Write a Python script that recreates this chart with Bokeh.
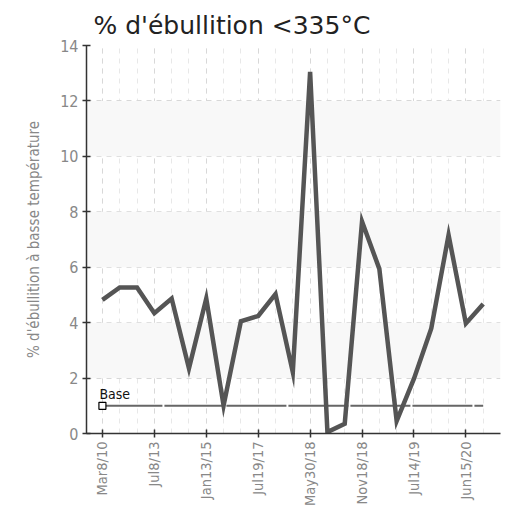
from bokeh.plotting import figure
from bokeh.embed import file_html
from bokeh.resources import INLINE
from bokeh.models import FixedTicker, Range1d, BoxAnnotation, Label

title = "% d'ébullition <335°C"
y_label = "% d'ébullition à basse température"

values = [4.82, 5.27, 5.27, 4.34, 4.87, 2.35, 4.87, 1.01, 4.05, 4.24, 5.03, 2.21,
          13.05, 0.05, 0.35, 7.65, 5.94, 0.45, 1.98, 3.79, 7.16, 3.97, 4.67]
tick_index = [0, 3, 6, 9, 12, 15, 18, 21]
tick_labels = ["Mar8/10", "Jul8/13", "Jan13/15", "Jul19/17", "May30/18",
               "Nov18/18", "Jul14/19", "Jun15/20"]
base_value = 1.0
base_label = "Base"

x = list(range(len(values)))
NARROW = "DejaVu Sans Condensed"

p = figure(width=508, height=510, output_backend="svg", toolbar_location=None,
           x_range=Range1d(-0.92, 23.0), y_range=Range1d(0, 14),
           min_border_left=86, min_border_right=8, min_border_top=45,
           min_border_bottom=77, title=title)
p.outline_line_color = None
p.background_fill_color = "white"

p.title.text_font = "DejaVu Sans"
p.title.text_font_size = "25px"
p.title.text_font_style = "normal"
p.title.text_color = "#222222"
p.title.offset = 7
p.title.standoff = 8
p.title.vertical_align = "top"

for lo in (2, 6, 10):
    p.add_layout(BoxAnnotation(bottom=lo, top=lo + 2, fill_color="#f8f8f8",
                               fill_alpha=1.0, line_color=None, level="underlay"))

p.xaxis.ticker = FixedTicker(ticks=tick_index, minor_ticks=x)
p.xaxis.major_label_overrides = {i: l for i, l in zip(tick_index, tick_labels)}
p.xaxis.major_label_orientation = 1.5708
p.yaxis.ticker = FixedTicker(ticks=[0, 2, 4, 6, 8, 10, 12, 14])

for ax in (p.xaxis, p.yaxis):
    ax.axis_line_color = "#333333"
    ax.axis_line_width = 1.5
    ax.major_tick_line_color = "#333333"
    ax.major_tick_line_width = 1.5
    ax.major_tick_in = 4
    ax.major_tick_out = 4
    ax.minor_tick_line_color = None
    ax.major_label_text_font = NARROW
    ax.major_label_text_color = "#888888"
    ax.major_label_standoff = 4

p.yaxis.major_label_text_font_size = "16px"
p.xaxis.major_label_text_font_size = "14.5px"
p.yaxis.axis_label = y_label
p.yaxis.axis_label_text_font = NARROW
p.yaxis.axis_label_text_font_size = "15px"
p.yaxis.axis_label_text_font_style = "normal"
p.yaxis.axis_label_text_color = "#888888"
p.yaxis.axis_label_standoff = 14

p.xgrid.grid_line_color = "#d8d8d8"
p.xgrid.grid_line_dash = "5 5"
p.xgrid.minor_grid_line_color = "#e8e8e8"
p.xgrid.minor_grid_line_dash = "5 5"
p.ygrid.grid_line_color = "#d8d8d8"
p.ygrid.grid_line_dash = "5 5"

p.line([x[0], x[-1]], [base_value, base_value], line_color="#666666",
       line_width=2, line_dash="60 2")
p.scatter([x[0]], [base_value], marker="square", size=7, fill_color="white",
          line_color="black", line_width=1.2)
p.add_layout(Label(x=x[0], y=base_value, text=base_label, x_offset=-3, y_offset=4,
                   text_font=NARROW, text_font_size="14px",
                   text_color="#111111"))

p.line(x, values, line_color="#555555", line_width=4.5, line_join="miter")

open("out.html", "w").write(file_html(p, INLINE))
